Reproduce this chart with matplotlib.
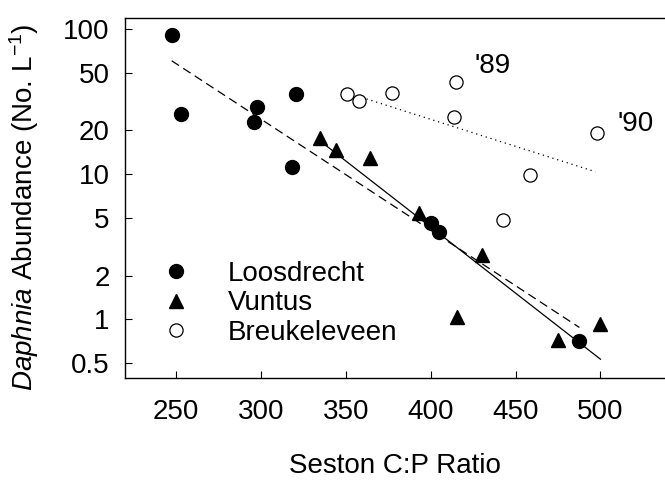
"""
Daphnia abundance vs seston C:P ratio (three lakes)
"""
import matplotlib
matplotlib.use("Agg")
import matplotlib.pyplot as plt
from matplotlib.ticker import FixedLocator, FixedFormatter, NullLocator

plt.rcParams['font.family'] = ['Liberation Sans', 'DejaVu Sans']
plt.rcParams['mathtext.fontset'] = 'custom'
plt.rcParams['mathtext.rm'] = 'Liberation Sans'
plt.rcParams['mathtext.it'] = 'Liberation Sans:italic'

FS = 20

# data
loos_cp = [247.5, 253, 298, 296, 320.6, 318.6, 400, 405, 487.6]
loos_abund = [91, 26, 29, 23, 35.7, 11.2, 4.6, 4.0, 0.71]

vunt_cp = [335, 344.5, 364, 393, 430, 415.5, 475, 500]
vunt_abund = [17.8, 14.7, 13.0, 5.4, 2.76, 1.04, 0.72, 0.935]

breu_cp = [351, 358, 377, 415, 413.5, 442.5, 458.4, 498]
breu_abund = [35.7, 32.1, 36.0, 43.4, 24.6, 4.8, 9.95, 19.3]

# regression lines (end points)
loos_fit_cp = [247.5, 487.6]
loos_fit_abund = [60.4, 0.88]
vunt_fit_cp = [335, 500]
vunt_fit_abund = [16.9, 0.532]
breu_fit_cp = [351, 497]
breu_fit_abund = [36.3, 10.4]

year_labels = ["'89", "'90"]
year_cp = [426, 510]
year_abund = [55.8, 22.3]

x_ticks = [250, 300, 350, 400, 450, 500]
y_ticks = [0.5, 1, 2, 5, 10, 20, 50, 100]
y_ticklabels = ['0.5', '1', '2', '5', '10', '20', '50', '100']

fig = plt.figure(figsize=(6.65, 4.80), dpi=100)
ax = fig.add_axes([125 / 665, 102 / 480, 540 / 665, 360 / 480])

# lines
ax.plot(loos_fit_cp, loos_fit_abund, color='black', lw=0.9, ls=(0, (7, 4)), zorder=2)
ax.plot(vunt_fit_cp, vunt_fit_abund, color='black', lw=0.9, ls='-', zorder=2)
ax.plot(breu_fit_cp, breu_fit_abund, color='black', lw=0.9, ls=(0, (1, 3)), zorder=2)

# points
ax.plot(loos_cp, loos_abund, 'o', ms=10, mfc='black', mec='black',
        label='Loosdrecht', zorder=3)
ax.plot(vunt_cp, vunt_abund, '^', ms=10.5, mfc='black', mec='black',
        label='Vuntus', zorder=3)
ax.plot(breu_cp, breu_abund, 'o', ms=9.5, mfc='white', mec='black', mew=0.9,
        label='Breukeleveen', zorder=3)

for lab, xv, yv in zip(year_labels, year_cp, year_abund):
    ax.text(xv, yv, lab, fontsize=FS, ha='left', va='center')

ax.set_yscale('log')
ax.set_xlim(220, 538)
ax.set_ylim(0.395, 119)

ax.xaxis.set_major_locator(FixedLocator(x_ticks))
ax.yaxis.set_major_locator(FixedLocator(y_ticks))
ax.yaxis.set_major_formatter(FixedFormatter(y_ticklabels))
ax.yaxis.set_minor_locator(NullLocator())
ax.xaxis.set_minor_locator(NullLocator())

ax.tick_params(axis='both', direction='in', length=5, width=0.8, labelsize=FS)
ax.tick_params(axis='x', pad=15)
ax.tick_params(axis='y', pad=11)

ax.spines['right'].set_visible(False)
for side in ['left', 'bottom', 'top']:
    ax.spines[side].set_linewidth(1.0)

ax.set_xlabel('Seston C:P Ratio', fontsize=FS, labelpad=20)
ax.set_ylabel(r'$\mathit{Daphnia}$ Abundance (No. L$^{\mathrm{-1}}$)', fontsize=FS)
ax.yaxis.set_label_coords(-0.155, 0.475)

ax.legend(loc='lower left', bbox_to_anchor=(0.072, 0.09), frameon=False,
          fontsize=FS, handlelength=0.85, handletextpad=1.45, labelspacing=0.12,
          borderpad=0, borderaxespad=0, numpoints=1)

fig.savefig('out.png', dpi=100)
